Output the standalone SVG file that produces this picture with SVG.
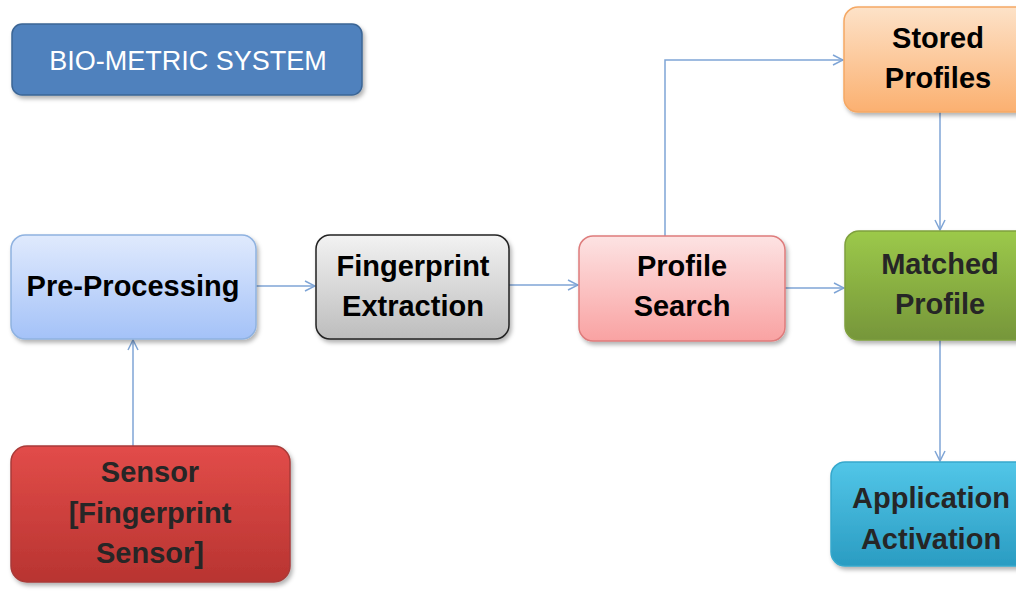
<svg xmlns="http://www.w3.org/2000/svg" width="1016" height="610" viewBox="0 0 1016 610">
<style>
.lbl{font-family:"Liberation Sans",Arial,sans-serif;font-weight:bold;font-size:29px;text-anchor:middle;fill:#000}
.dk{fill:#262626}
.conn{fill:none;stroke:#7fa5d6;stroke-width:1.5}
</style>
<defs>
<marker id="arr" viewBox="0 0 12 12" refX="11" refY="6" markerWidth="12" markerHeight="12" markerUnits="userSpaceOnUse" orient="auto">
<path d="M1,1 L11,6 L1,11" fill="none" stroke="#7fa5d6" stroke-width="1.5"/>
</marker>
<filter id="sh" x="-10%" y="-10%" width="125%" height="130%">
<feDropShadow dx="2" dy="3" stdDeviation="2" flood-color="#000" flood-opacity="0.3"/>
</filter>
<linearGradient id="gBlue" x1="0" y1="0" x2="0" y2="1"><stop offset="0" stop-color="#e0eafd"/><stop offset="1" stop-color="#a4c2f8"/></linearGradient>
<linearGradient id="gGray" x1="0" y1="0" x2="0" y2="1"><stop offset="0" stop-color="#f2f2f2"/><stop offset="1" stop-color="#bdbdbd"/></linearGradient>
<linearGradient id="gPink" x1="0" y1="0" x2="0" y2="1"><stop offset="0" stop-color="#fde3e3"/><stop offset="1" stop-color="#f9a2a2"/></linearGradient>
<linearGradient id="gOrange" x1="0" y1="0" x2="0" y2="1"><stop offset="0" stop-color="#fde2c8"/><stop offset="1" stop-color="#fbb070"/></linearGradient>
<linearGradient id="gGreen" x1="0" y1="0" x2="0" y2="1"><stop offset="0" stop-color="#9cc94a"/><stop offset="1" stop-color="#76963a"/></linearGradient>
<linearGradient id="gCyan" x1="0" y1="0" x2="0" y2="1"><stop offset="0" stop-color="#52c6e8"/><stop offset="1" stop-color="#2a9cc2"/></linearGradient>
<linearGradient id="gRed" x1="0" y1="0" x2="0" y2="1"><stop offset="0" stop-color="#e24c49"/><stop offset="1" stop-color="#b83431"/></linearGradient>
</defs>
<rect width="1016" height="610" fill="#ffffff"/>

<g id="connectors">
<line class="conn" x1="256" y1="286" x2="315" y2="286" marker-end="url(#arr)"/>
<line class="conn" x1="509" y1="285" x2="578" y2="285" marker-end="url(#arr)"/>
<line class="conn" x1="785" y1="288" x2="844" y2="288" marker-end="url(#arr)"/>
<line class="conn" x1="133" y1="446" x2="133" y2="340" marker-end="url(#arr)"/>
<polyline class="conn" points="665,236 665,60 843,60" marker-end="url(#arr)"/>
<line class="conn" x1="940" y1="112" x2="940" y2="230" marker-end="url(#arr)"/>
<line class="conn" x1="940" y1="340" x2="940" y2="461" marker-end="url(#arr)"/>
</g>

<g id="title">
<rect x="12" y="24" width="350" height="71" rx="10" fill="#4f81bd" stroke="#3b6595" stroke-width="1.5" filter="url(#sh)"/>
<text x="188" y="70" font-family="'Liberation Sans',Arial,sans-serif" font-size="27" fill="#ffffff" text-anchor="middle">BIO-METRIC SYSTEM</text>
</g>

<g id="stored-profiles">
<rect x="844" y="7" width="190" height="105" rx="14" fill="url(#gOrange)" stroke="#f5a864" stroke-width="1.5" filter="url(#sh)"/>
<text class="lbl" x="938" y="48">Stored</text>
<text class="lbl" x="938" y="88">Profiles</text>
</g>

<g id="pre-processing">
<rect x="11" y="235" width="245" height="104" rx="14" fill="url(#gBlue)" stroke="#8fb2e0" stroke-width="1.5" filter="url(#sh)"/>
<text class="lbl" x="133" y="296">Pre-Processing</text>
</g>

<g id="fingerprint-extraction">
<rect x="316" y="235" width="193" height="104" rx="14" fill="url(#gGray)" stroke="#222" stroke-width="1.5" filter="url(#sh)"/>
<text class="lbl" x="413" y="276">Fingerprint</text>
<text class="lbl" x="413" y="316">Extraction</text>
</g>

<g id="profile-search">
<rect x="579" y="236" width="206" height="105" rx="14" fill="url(#gPink)" stroke="#de7c7c" stroke-width="1.5" filter="url(#sh)"/>
<text class="lbl" x="682" y="276">Profile</text>
<text class="lbl" x="682" y="316">Search</text>
</g>

<g id="matched-profile">
<rect x="845" y="231" width="190" height="109" rx="14" fill="url(#gGreen)" stroke="#7fa03e" stroke-width="1.5" filter="url(#sh)"/>
<text class="lbl dk" x="940" y="274">Matched</text>
<text class="lbl dk" x="940" y="314">Profile</text>
</g>

<g id="application-activation">
<rect x="831" y="462" width="200" height="104" rx="14" fill="url(#gCyan)" stroke="#36a8cc" stroke-width="1.5" filter="url(#sh)"/>
<text class="lbl dk" x="931" y="508">Application</text>
<text class="lbl dk" x="931" y="549">Activation</text>
</g>

<g id="sensor">
<rect x="11" y="446" width="279" height="136" rx="16" fill="url(#gRed)" stroke="#a83a38" stroke-width="1.5" filter="url(#sh)"/>
<text class="lbl dk" x="150" y="482">Sensor</text>
<text class="lbl dk" x="150" y="523">[Fingerprint</text>
<text class="lbl dk" x="150" y="563">Sensor]</text>
</g>
</svg>
